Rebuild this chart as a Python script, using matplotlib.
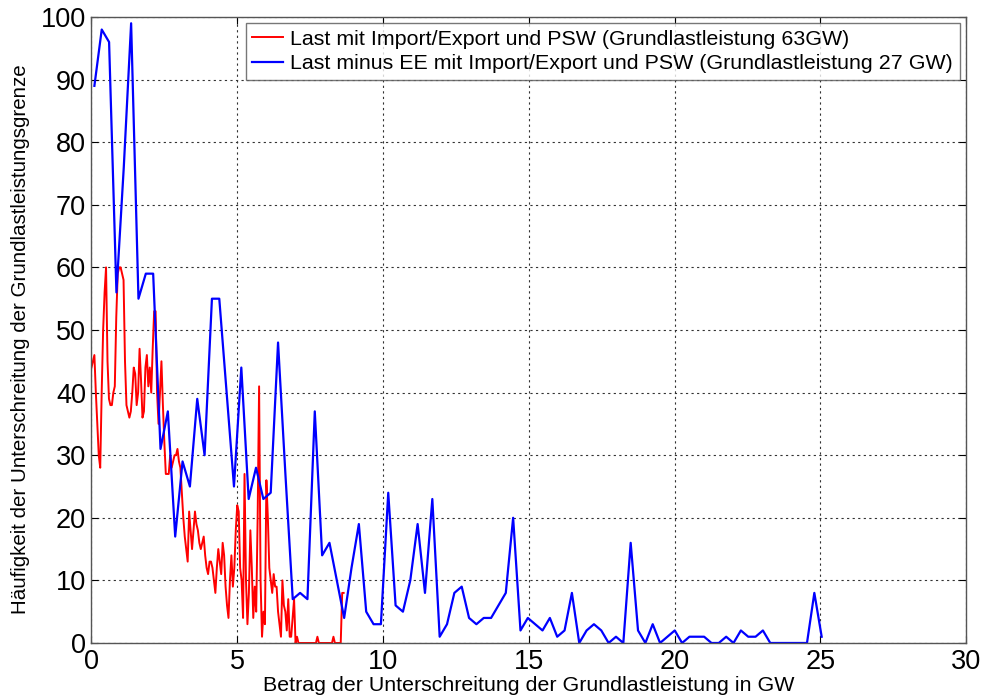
import matplotlib
matplotlib.use('Agg')
import matplotlib.pyplot as plt
import numpy as np

plt.rcParams['font.family'] = ['Liberation Sans', 'DejaVu Sans']

# ---------------- data ----------------
red_step = 0.05
red_y = [
    44, 45, 46, 40, 35, 30, 28, 40, 50, 56, 60, 45, 39, 38, 38, 40, 41, 52, 59, 60,
    60, 59, 58, 45, 38, 37, 36, 37, 40, 44, 43, 38, 40, 47, 42, 36, 37, 44, 46, 41,
    44, 40, 47, 53, 53, 40, 35, 40, 45, 38, 32, 27, 27, 27, 30, 28, 29, 30, 30, 31,
    29, 28, 24, 20, 17, 15, 13, 21, 18, 15, 18, 21, 19, 18, 16, 15, 16, 17, 14, 12,
    11, 13, 13, 12, 10, 8, 12, 15, 13, 11, 16, 14, 9, 6, 4, 10, 14, 9, 12, 18,
    22, 21, 12, 10, 4, 27, 10, 3, 8, 18, 12, 4, 9, 5, 20, 41, 10, 1, 5, 3,
    26, 20, 12, 10, 8, 11, 9, 9, 5, 3, 1, 10, 6, 5, 2, 7, 1, 1, 4, 7,
    0, 1, 0, 0, 0, 0, 0, 0, 0, 0, 0, 0, 0, 0, 0, 1, 0, 0, 0, 0,
    0, 0, 0, 0, 0, 0, 1, 0, 0, 0, 0, 0, 8, 8,
]
blue_start = 0.1
blue_step = 0.252
blue_y = [
    89, 98, 96, 56, 76, 99, 55, 59, 59, 31,
    37, 17, 29, 25, 39, 30, 55, 55, 40, 25,
    44, 23, 28, 23, 24, 48, 27, 7, 8, 7,
    37, 14, 16, 10, 4, 12, 19, 5, 3, 3,
    24, 6, 5, 10, 19, 8, 23, 1, 3, 8,
    9, 4, 3, 4, 4, 6, 8, 20, 2, 4,
    3, 2, 4, 1, 2, 8, 0, 2, 3, 2,
    0, 1, 0, 16, 2, 0, 3, 0, 1, 2,
    0, 1, 1, 1, 0, 0, 1, 0, 2, 1,
    1, 2, 0, 0, 0, 0, 0, 0, 8, 1,
]
red_label = 'Last mit Import/Export und PSW (Grundlastleistung 63GW)'
blue_label = 'Last minus EE mit Import/Export und PSW (Grundlastleistung 27 GW)'
x_ticks = [0, 5, 10, 15, 20, 25, 30]
y_ticks = [0, 10, 20, 30, 40, 50, 60, 70, 80, 90, 100]
x_label = 'Betrag der Unterschreitung der Grundlastleistung in GW'
y_label = 'Häufigkeit der Unterschreitung der Grundlastleistungsgrenze'

red_x = np.arange(len(red_y)) * red_step
blue_x = blue_start + np.arange(len(blue_y)) * blue_step

# ---------------- figure ----------------
fig = plt.figure(figsize=(9.9, 6.97), dpi=100)
ax = fig.add_axes([0.0924, 0.0775, 0.9758 - 0.0924, 0.9756 - 0.0775])

ax.plot(red_x, red_y, color='#ff0000', lw=1.4, label=red_label)
ax.plot(blue_x, blue_y, color='#0000ff', lw=1.6, label=blue_label)

ax.set_xlim(0, 30)
ax.set_ylim(0, 100)
ax.set_xticks(x_ticks)
ax.set_yticks(y_ticks)
ax.tick_params(direction='in', labelsize=19.5, length=5, width=0.8, top=True, right=True, pad=4)
ax.grid(True, linestyle=(0, (2, 3)), color='#333333', linewidth=0.8)
for s in ax.spines.values():
    s.set_color('#555555')
    s.set_linewidth(1.0)

ax.set_xlabel(x_label, fontsize=15.4, labelpad=1)
ax.set_ylabel(y_label, fontsize=14.8, labelpad=8)
ax.yaxis.label.set_y(0.485)

leg = ax.legend(loc='upper right', fontsize=15.4, frameon=True, fancybox=False,
                edgecolor='#555555', handlelength=1.45, borderpad=0.3,
                labelspacing=0.25, handletextpad=0.35, borderaxespad=0.3)
leg.get_frame().set_linewidth(1.0)

fig.savefig('out.png', dpi=100, facecolor='white')
